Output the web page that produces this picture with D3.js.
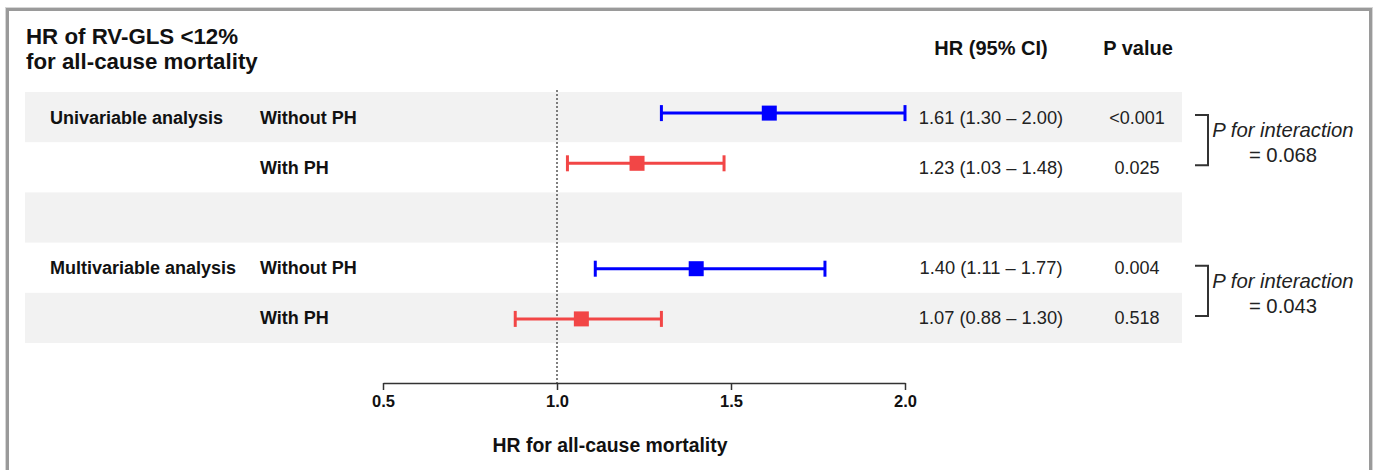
<!DOCTYPE html>
<html>
<head>
<meta charset="utf-8">
<script src="https://cdn.jsdelivr.net/npm/d3@7"></script>
<style>
  body { margin: 0; background: #fff; }
  svg { display: block; font-family: "Liberation Sans", Arial, sans-serif; }
</style>
</head>
<body>
<div id="chart"></div>
<script>
// Forest plot data
const analysisLabels = ["Univariable analysis", "", "", "Multivariable analysis", ""];
const rowLabels = ["Without PH", "With PH", "", "Without PH", "With PH"];
const subgroups = ["without", "with", null, "without", "with"];
const hrValues = [1.61, 1.23, null, 1.40, 1.07];
const ciLow = [1.30, 1.03, null, 1.11, 0.88];
const ciHigh = [2.00, 1.48, null, 1.77, 1.30];
const pValues = ["<0.001", "0.025", "", "0.004", "0.518"];
const interactionRows = [[0, 1], [3, 4]];
const interactionP = ["0.068", "0.043"];
const xTicks = [0.5, 1.0, 1.5, 2.0];

const width = 1374;
const height = 470;
const colors = { without: "#0000ff", with: "#f24646" };
// small vertical nudge of the markers inside their rows
const markerShift = [-4, -4, 0, 1, 1];

const svg = d3.select("#chart")
  .append("svg")
  .attr("width", width)
  .attr("height", height);

// outer frame
svg.append("rect")
  .attr("x", 5.5).attr("y", 7.5)
  .attr("width", 1367).attr("height", 520)
  .attr("fill", "none").attr("stroke", "#d6d6d6").attr("stroke-width", 1);
svg.append("rect")
  .attr("x", 7.5).attr("y", 9.5)
  .attr("width", 1363).attr("height", 520)
  .attr("fill", "#fff").attr("stroke", "#9a9a9a").attr("stroke-width", 3);

const rows = d3.range(rowLabels.length);

const x = d3.scaleLinear().domain([0.5, 2.0]).range([383, 905]);
const y = d3.scaleBand().domain(rows).range([92, 343]);
const yc = (i) => y(i) + y.bandwidth() / 2;

// alternating row bands
svg.append("g")
  .selectAll("rect")
  .data(rows.filter((i) => i % 2 === 0))
  .join("rect")
  .attr("x", 25)
  .attr("y", (i) => y(i))
  .attr("width", 1182 - 25)
  .attr("height", y.bandwidth())
  .attr("fill", "#f2f2f2");

// title
const title = svg.append("text")
  .attr("font-size", 22.3)
  .attr("font-weight", "bold")
  .attr("fill", "#111");
title.append("tspan").attr("x", 26).attr("y", 44).text("HR of RV-GLS <12%");
title.append("tspan").attr("x", 26).attr("y", 69).text("for all-cause mortality");

// column headers
svg.append("text")
  .attr("x", 991).attr("y", 55)
  .attr("text-anchor", "middle")
  .attr("font-size", 20).attr("font-weight", "bold").attr("fill", "#111")
  .text("HR (95% CI)");
svg.append("text")
  .attr("x", 1138).attr("y", 55)
  .attr("text-anchor", "middle")
  .attr("font-size", 20).attr("font-weight", "bold").attr("fill", "#111")
  .text("P value");

// left labels
svg.append("g")
  .selectAll("text")
  .data(rows.filter((i) => analysisLabels[i]))
  .join("text")
  .attr("x", 50)
  .attr("y", (i) => yc(i))
  .attr("dy", "0.36em")
  .attr("font-size", 18).attr("font-weight", "bold").attr("fill", "#111")
  .text((i) => analysisLabels[i]);

svg.append("g")
  .selectAll("text")
  .data(rows.filter((i) => rowLabels[i]))
  .join("text")
  .attr("x", 260)
  .attr("y", (i) => yc(i))
  .attr("dy", "0.36em")
  .attr("font-size", 18).attr("font-weight", "bold").attr("fill", "#111")
  .text((i) => rowLabels[i]);

// reference line at HR = 1
svg.append("line")
  .attr("x1", x(1)).attr("x2", x(1))
  .attr("y1", 90).attr("y2", 383)
  .attr("stroke", "#555")
  .attr("stroke-width", 1.5)
  .attr("stroke-dasharray", "2,2");

// confidence intervals and point estimates
const est = rows.filter((i) => hrValues[i] != null);
const marks = svg.append("g")
  .selectAll("g")
  .data(est)
  .join("g")
  .attr("transform", (i) => `translate(0,${yc(i) + markerShift[i]})`)
  .attr("stroke", (i) => colors[subgroups[i]])
  .attr("fill", (i) => colors[subgroups[i]]);

marks.append("line")
  .attr("x1", (i) => x(ciLow[i]))
  .attr("x2", (i) => x(ciHigh[i]))
  .attr("stroke-width", 3);

marks.append("line")
  .attr("x1", (i) => x(ciLow[i])).attr("x2", (i) => x(ciLow[i]))
  .attr("y1", -8).attr("y2", 8)
  .attr("stroke-width", 3);

marks.append("line")
  .attr("x1", (i) => x(ciHigh[i])).attr("x2", (i) => x(ciHigh[i]))
  .attr("y1", -8).attr("y2", 8)
  .attr("stroke-width", 3);

marks.append("rect")
  .attr("x", (i) => x(hrValues[i]) - 7.5)
  .attr("y", -7.5)
  .attr("width", 15)
  .attr("height", 15)
  .attr("stroke", "none");

// HR text and p values
svg.append("g")
  .selectAll("text")
  .data(est)
  .join("text")
  .attr("x", 991)
  .attr("y", (i) => yc(i))
  .attr("dy", "0.36em")
  .attr("text-anchor", "middle")
  .attr("font-size", 18.3).attr("fill", "#222")
  .text((i) => `${hrValues[i].toFixed(2)} (${ciLow[i].toFixed(2)} \u2013 ${ciHigh[i].toFixed(2)})`);

svg.append("g")
  .selectAll("text")
  .data(est)
  .join("text")
  .attr("x", 1137)
  .attr("y", (i) => yc(i))
  .attr("dy", "0.36em")
  .attr("text-anchor", "middle")
  .attr("font-size", 18).attr("fill", "#222")
  .text((i) => pValues[i]);

// interaction brackets
interactionRows.forEach((pair, k) => {
  const y0 = yc(pair[0]) - 2;
  const y1 = yc(pair[1]) - 2;
  const ym = (y0 + y1) / 2;
  svg.append("path")
    .attr("d", `M1195,${y0}H1208V${y1}H1195`)
    .attr("fill", "none")
    .attr("stroke", "#333")
    .attr("stroke-width", 2);
  svg.append("text")
    .attr("x", 1283).attr("y", ym - 3)
    .attr("text-anchor", "middle")
    .attr("font-size", 20.3).attr("font-style", "italic").attr("fill", "#222")
    .text("P for interaction");
  svg.append("text")
    .attr("x", 1283).attr("y", ym + 22)
    .attr("text-anchor", "middle")
    .attr("font-size", 20.3).attr("fill", "#222")
    .text("= " + interactionP[k]);
});

// x axis
const axis = svg.append("g")
  .attr("transform", "translate(0,383)")
  .call(d3.axisBottom(x)
    .tickValues(xTicks)
    .tickFormat(d3.format(".1f"))
    .tickSize(7)
    .tickSizeOuter(0)
    .tickPadding(5));

axis.attr("font-size", null).attr("font-family", null);
axis.select(".domain").attr("stroke", "#333").attr("stroke-width", 1.5);
axis.selectAll(".tick line").attr("stroke", "#333").attr("stroke-width", 1.5);
axis.selectAll(".tick text")
  .style("font-size", "16.5px")
  .style("font-weight", "bold")
  .attr("fill", "#111");

svg.append("text")
  .attr("x", 610).attr("y", 452)
  .attr("text-anchor", "middle")
  .attr("font-size", 19.4).attr("font-weight", "bold").attr("fill", "#111")
  .text("HR for all-cause mortality");
</script>
</body>
</html>
